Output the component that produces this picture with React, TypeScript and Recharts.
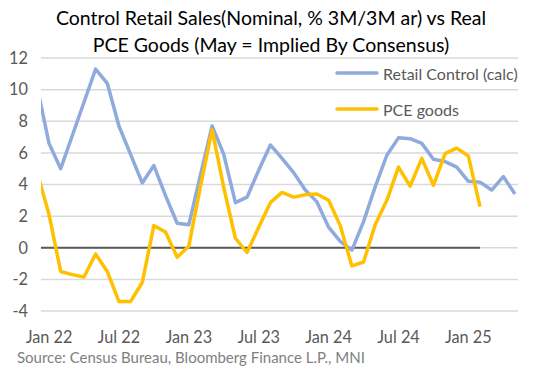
/**
 * Control retail sales vs real PCE goods, 3M/3M annualised.
 */
import { LineChart, Line, XAxis, YAxis, CartesianGrid, Legend } from 'recharts';

// Dec 21 is only there so the line runs in from the left edge (clipped)
const MONTHS = [
  'Dec 21',
  'Jan 22', 'Feb 22', 'Mar 22', 'Apr 22', 'May 22', 'Jun 22',
  'Jul 22', 'Aug 22', 'Sep 22', 'Oct 22', 'Nov 22', 'Dec 22',
  'Jan 23', 'Feb 23', 'Mar 23', 'Apr 23', 'May 23', 'Jun 23',
  'Jul 23', 'Aug 23', 'Sep 23', 'Oct 23', 'Nov 23', 'Dec 23',
  'Jan 24', 'Feb 24', 'Mar 24', 'Apr 24', 'May 24', 'Jun 24',
  'Jul 24', 'Aug 24', 'Sep 24', 'Oct 24', 'Nov 24', 'Dec 24',
  'Jan 25', 'Feb 25', 'Mar 25', 'Apr 25', 'May 25',
];

const RETAIL_CONTROL = [
  10.1,
  6.6, 5.0, 7.1, 9.2, 11.3, 10.4,
  7.7, 5.9, 4.1, 5.2, 3.3, 1.55,
  1.45, 4.6, 7.7, 5.9, 2.85, 3.2,
  4.9, 6.5, 5.65, 4.75, 3.65, 2.9,
  1.3, 0.4, -0.15, 1.65, 3.85, 5.85,
  6.95, 6.9, 6.6, 5.6, 5.45, 5.1,
  4.2, 4.15, 3.65, 4.5, 3.4,
];

const PCE_GOODS = [
  4.7,
  2.1, -1.5, -1.7, -1.85, -0.4, -1.5,
  -3.4, -3.4, -2.2, 1.4, 1.0, -0.6,
  0.1, 3.9, 7.45, 3.8, 0.6, -0.3,
  1.3, 2.85, 3.5, 3.2, 3.35, 3.4,
  3.0, 1.4, -1.15, -0.9, 1.45, 3.0,
  5.1, 3.9, 5.65, 3.95, 5.95, 6.3,
  5.8, 2.6, null, null, null,
];

const SERIES_NAMES = ['Retail Control (calc)', 'PCE goods'];
const X_TICKS = ['Jan 22', 'Jul 22', 'Jan 23', 'Jul 23', 'Jan 24', 'Jul 24', 'Jan 25'];
const Y_TICKS = [-4, -2, 0, 2, 4, 6, 8, 10, 12];

// month index, Jan 22 = 0
const data = MONTHS.map((m, i) => ({
  idx: i - 1,
  month: m,
  retail: RETAIL_CONTROL[i],
  pce: PCE_GOODS[i],
  zero: PCE_GOODS[i] == null ? null : 0,
}));

const xTickValues = X_TICKS.map((t) => MONTHS.indexOf(t) - 1);

const FONT = 'Lato, "Open Sans", sans-serif';

const renderLegend = (props: any) => {
  const items = SERIES_NAMES.map((n) => props.payload.find((p: any) => p.value === n)).filter(Boolean);
  return (
    <div>
      {items.map((entry: any) => (
        <div key={entry.value} style={{ display: 'flex', alignItems: 'center', height: 36 }}>
          <svg width={44} height={6}>
            <line x1={2} x2={42} y1={3} y2={3} stroke={entry.color} strokeWidth={3.5} strokeLinecap="round" />
          </svg>
          <span style={{ marginLeft: 4, fontSize: 16, color: '#595959', fontFamily: FONT }}>{entry.value}</span>
        </div>
      ))}
    </div>
  );
};

export default function App() {
  return (
    <div style={{ position: 'absolute', left: 0, top: 0, width: 542, height: 371, background: '#fff', fontFamily: FONT }}>
      <div
        style={{
          position: 'absolute',
          top: 4,
          left: 0,
          width: 542,
          textAlign: 'center',
          fontSize: 19.5,
          lineHeight: '27px',
          color: '#000',
        }}
      >
        Control Retail Sales(Nominal, % 3M/3M ar) vs Real
        <br />
        PCE Goods (May = Implied By Consensus)
      </div>
      <LineChart width={542} height={371} data={data} margin={{ top: 58, right: 24, bottom: 30, left: 0 }}>
        <CartesianGrid vertical={false} stroke="#d9d9d9" strokeWidth={1.5} />
        <XAxis
          dataKey="idx"
          type="number"
          domain={[-0.69, 40.26]}
          allowDataOverflow
          ticks={xTickValues}
          tickFormatter={(v: number) => MONTHS[v + 1]}
          axisLine={false}
          tickLine={false}
          tickSize={0}
          tickMargin={20}
          height={30}
          tick={{ fill: '#595959', fontSize: 16.3, fontFamily: FONT }}
        />
        <YAxis
          domain={[-4, 12]}
          ticks={Y_TICKS}
          axisLine={false}
          tickLine={false}
          tickSize={0}
          tickMargin={13}
          width={41}
          tick={{ fill: '#595959', fontSize: 16.3, fontFamily: FONT }}
        />
        <Legend
          layout="vertical"
          align="center"
          verticalAlign="middle"
          content={renderLegend}
          wrapperStyle={{ top: 55, left: 335, width: 205 }}
        />
        <Line
          dataKey="zero"
          stroke="#595959"
          strokeWidth={2}
          dot={false}
          legendType="none"
          isAnimationActive={false}
        />
        <Line
          dataKey="retail"
          name="Retail Control (calc)"
          stroke="#8faadc"
          strokeWidth={3.5}
          dot={false}
          strokeLinejoin="round"
          isAnimationActive={false}
        />
        <Line
          dataKey="pce"
          name="PCE goods"
          stroke="#ffc000"
          strokeWidth={3.5}
          dot={false}
          strokeLinejoin="round"
          isAnimationActive={false}
        />
      </LineChart>
      <div style={{ position: 'absolute', left: 17, top: 348, fontSize: 15, color: '#7f7f7f' }}>
        Source: Census Bureau, Bloomberg Finance L.P., MNI
      </div>
    </div>
  );
}
